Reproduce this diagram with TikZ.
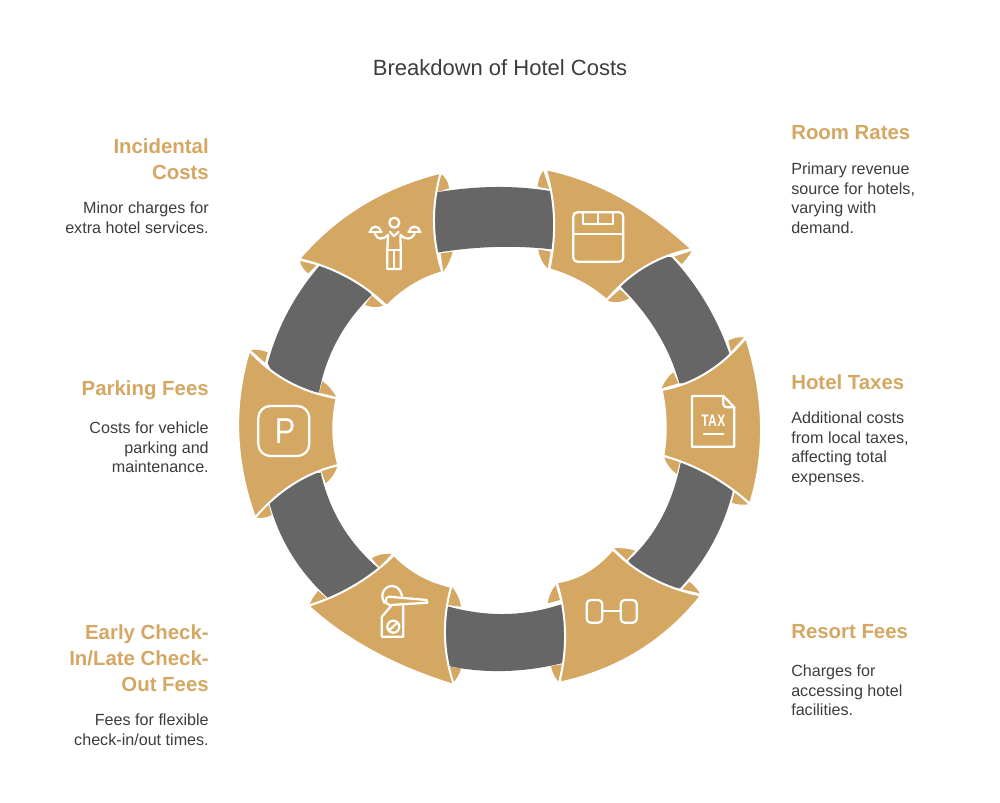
\documentclass[tikz,border=0pt]{standalone}
\usepackage{fontspec}
\setmainfont{Liberation Sans}
\usetikzlibrary{calc}
\definecolor{goldc}{HTML}{D4A762}
\definecolor{darkc}{HTML}{666666}
\definecolor{textc}{HTML}{3D3D3D}
\newcommand\fourside[9]{\path[#1] (#2)
 .. controls ($1.3333*(#3)-0.3333*(#4)$) and ($1.3333*(#3)-0.3333*(#2)$) .. (#4)
 .. controls ($1.3333*(#5)-0.3333*(#6)$) and ($1.3333*(#5)-0.3333*(#4)$) .. (#6)
 .. controls ($1.3333*(#7)-0.3333*(#8)$) and ($1.3333*(#7)-0.3333*(#6)$) .. (#8)
 .. controls ($1.3333*(#9)-0.3333*(#2)$) and ($1.3333*(#9)-0.3333*(#8)$) .. cycle;}
\newcommand\flapshape[4]{\fill[flap] (#1)
 .. controls ($1.3333*(#2)-0.3333*(#3)$) and ($1.3333*(#2)-0.3333*(#1)$) .. (#3) -- (#4) -- cycle;}
\tikzset{
 x=0.75pt,y=-0.75pt,
 ringband/.style={fill=darkc},
 petal/.style={fill=goldc,draw=white,line width=1.5pt,line join=miter},
 flap/.style={fill=goldc},
 icon/.style={draw=white,line width=1.7pt,line join=round,line cap=round},
 titletext/.style={font=\fontsize{16.5}{20}\selectfont,text=textc,inner sep=0pt},
 headR/.style={font=\fontsize{15.3}{19.5}\selectfont\bfseries,text=goldc,inner sep=0pt,anchor=north west,align=left},
 headL/.style={font=\fontsize{15.3}{19.5}\selectfont\bfseries,text=goldc,inner sep=0pt,anchor=north east,align=right},
 bodyR/.style={font=\fontsize{12.1}{14.8}\selectfont,text=textc,inner sep=0pt,anchor=north west,align=left},
 bodyL/.style={font=\fontsize{12.1}{14.8}\selectfont,text=textc,inner sep=0pt,anchor=north east,align=right},
}
\begin{document}
\begin{tikzpicture}
\useasboundingbox (0,0) rectangle (1000,803);
\fill[white] (0,0) rectangle (1000,803);
% bands
\fourside{ringband}{436.7,192.3}{495,187}{550,191}{557,220}{551.7,249.3}{495,247}{436.7,252.7}{431,222}
\fourside{ringband}{671.7,257.3}{705.4,302}{729.3,353.3}{708,376}{679.3,383.3}{657.2,332.4}{620.7,286.7}{644,263}
\fourside{ringband}{732.7,491.7}{712.5,543.4}{680,588.3}{650,582}{628.3,560.7}{661.5,518}{680.7,462.7}{710,471}
\fourside{ringband}{564.3,662.7}{505,671}{448.3,666}{441,636}{446.7,606}{505,614}{562.3,604}{569,632}
\fourside{ringband}{328.3,598.3}{291.7,554.8}{269.3,502.7}{292,481}{320.7,472.7}{341.6,525.3}{378.3,568.3}{356,589}
\fourside{ringband}{267.7,363.3}{287.8,312}{319.3,266}{347,273}{371.7,295}{337.3,340.2}{319,392.7}{287,385}
% flaps
\flapshape{440.7,174}{446.5,180}{449,188.3}{436.7,192.3}
\flapshape{452.7,251.7}{449,262}{443.3,271.7}{440.7,253.3}
\flapshape{300,261}{303,268}{308.3,273.3}{316.7,265}
\flapshape{383.3,305.7}{374,307}{365,305}{371.7,295.7}
\flapshape{543.3,170.7}{539.5,178}{537.7,186.7}{549.3,189}
\flapshape{538.3,249.3}{541.5,260}{547.7,268.3}{550.7,251.7}
\flapshape{691.7,251}{687,258}{681.7,264}{674,256.7}
\flapshape{607.3,300.7}{618,302}{629.3,298.3}{620,289.3}
\flapshape{744,337.3}{736,337.8}{728.3,340.7}{731,351.7}
\flapshape{661.7,388.3}{666.5,379.5}{673.3,372.3}{678.3,383.3}
\flapshape{664.3,457.3}{669,466.5}{676.7,474}{680,461.7}
\flapshape{748.3,504.3}{740,504.5}{731.7,502.7}{735,491.7}
\flapshape{614,548.3}{625,548.5}{635,550.7}{626.7,560}
\flapshape{700,593.3}{695,587}{689.3,581.7}{682.3,589.3}
\flapshape{555.7,585}{550.5,593.5}{547.7,603.3}{560,600}
\flapshape{558.3,681.7}{553.5,674}{551,666}{562.3,664.3}
\flapshape{391.7,554}{381,554.5}{371.7,558.3}{379.3,567.3}
\flapshape{310,604}{313.5,597}{318.3,591}{326.7,598.3}
\flapshape{452.3,587.3}{458,596.5}{461,606.7}{447.3,605}
\flapshape{452.7,683.3}{458,676}{461,668.3}{448.3,666.7}
\flapshape{250.7,350}{259,350}{267.7,352.3}{265,362.7}
\flapshape{336,396.7}{330,388}{322.3,381}{319.3,392.7}
\flapshape{337.3,466.7}{332.5,476}{325.7,483.3}{321,470}
\flapshape{256.7,517.7}{264.5,517.5}{271.7,515}{268.3,503.3}
% petals
\fourside{petal}{440.7,172.7}{362,205}{299,259}{346.7,276.7}{386.7,306}{413,285}{442.3,272.3}{434,223}
\fourside{petal}{545.7,169.3}{620,196.7}{691.7,249}{645,266.7}{606.7,300}{580,281.7}{549.3,269.3}{554,218.3}
\fourside{petal}{746,337.7}{761,423.3}{750,504}{710,475}{663.3,455.7}{665.7,423.3}{661.7,390}{706.7,372.7}
\fourside{petal}{612.7,549.3}{651.7,578.3}{701,595.7}{638.3,651.7}{559.3,682.7}{565,631.7}{556.7,582.3}{586.7,571.7}
\fourside{petal}{394,555}{355,585}{308.3,606}{373.3,651.7}{454,685}{445,636.7}{451,586.7}{420,575}
\fourside{petal}{249.3,350.7}{288.3,381.7}{336.7,398.3}{333.3,431.7}{338.3,465}{293.3,484}{255,517.7}{238.3,433.3}
% icon: incidental
\draw[icon] (394.3,222.7) circle[radius=5];
\draw[icon] (369.3,231.7) -- (381.7,231.7);
\draw[icon] (370.5,231.7) .. controls (370.5,225) and (380.5,225) .. (380.5,231.7);
\draw[icon] (408.3,231.7) -- (420.7,231.7);
\draw[icon] (409.5,231.7) .. controls (409.5,225) and (419.5,225) .. (419.5,231.7);
\draw[icon] (375,234) .. controls (378,240) and (382,240) .. (388,235) -- (387.3,250) -- (387.3,269) -- (400.7,269) -- (400.7,250) -- (400.5,235) .. controls (406,240) and (411,240) .. (414.5,234);
\draw[icon] (387.3,250) -- (400.7,250);
\draw[icon] (394,252) -- (394,269);
\draw[icon] (390,232) -- (394,236) -- (398.5,232);
% icon: room
\draw[icon,rounded corners=3] (573.3,212.3) rectangle (623.3,261.7);
\draw[icon] (573.3,234.3) -- (623.3,234.3);
\draw[icon] (583.3,212.3) -- (583.3,224.3) -- (613.3,224.3) -- (613.3,212.3);
\draw[icon] (598.3,212.3) -- (598.3,224.3);
% icon: tax
\draw[icon] (723.3,396) -- (692,396) -- (692,446.7) -- (734.3,446.7) -- (734.3,407.3) -- cycle;
\draw[icon] (723.3,396) -- (723.3,404) .. controls (723.3,406) and (725,407.3) .. (727,407.3) -- (734.3,407.3);
\node[inner sep=0pt,text=white,font=\fontsize{12.5}{14}\selectfont\bfseries,xscale=.72,transform shape] (taxmark) at (713.3,420.5) {\addfontfeature{LetterSpace=4}TAX};
\draw[icon] (704,434) -- (723.3,434);
% icon: resort
\draw[icon,rounded corners=3] (586.7,600) rectangle (602.3,622.7);
\draw[icon,rounded corners=3] (620.7,600) rectangle (636.7,622.7);
\draw[icon] (602.3,611) -- (620.7,611);
% icon: early
\draw[icon] (389,596.7) -- (426.7,600) -- (427.3,602.7) -- (390,605) .. controls (384.5,605) and (384.5,596.5) .. (389,596.7);
\draw[icon] (384.5,603) .. controls (379,594) and (385,586) .. (392,586) .. controls (397,586) and (401,590) .. (402,596);
\draw[icon] (391,606) -- (381.7,617) -- (381.7,636.7) -- (403.3,636.7) -- (403.3,605);
\draw[icon] (393.3,626.7) circle[radius=6];
\draw[icon] (389.5,630) -- (397,623);
% icon: parking
\draw[icon,rounded corners=9] (258.3,406) rectangle (309.3,456);
\node[inner sep=0pt,text=white,font=\fontsize{27}{30}\selectfont,xscale=.85,transform shape] (pmark) at (285,431.5) {P};
% texts
\node[titletext] (title) at (500,67.6) {Breakdown of Hotel Costs};
\node[headR] (h1) at (791,125) {Room Rates};
\node[bodyR] (b1) at (791,160.3) {\strut Primary revenue\\source for hotels,\\varying with\\demand.};
\node[headR] (h2) at (791,374) {Hotel Taxes};
\node[bodyR] (b2) at (791,409.3) {\strut Additional costs\\from local taxes,\\affecting total\\expenses.};
\node[headR] (h3) at (791,624) {Resort Fees};
\node[bodyR] (b3) at (791,662.3) {\strut Charges for\\accessing hotel\\facilities.};
\node[headL] (h4) at (209,138) {Incidental\\Costs};
\node[bodyL] (b4) at (209,199.3) {\strut Minor charges for\\extra hotel services.};
\node[headL] (h5) at (209,380) {Parking Fees};
\node[bodyL] (b5) at (209,419.3) {\strut Costs for vehicle\\parking and\\maintenance.};
\node[headL] (h6) at (209,624) {Early Check-\\In/Late Check-\\Out Fees};
\node[bodyL] (b6) at (209,711.3) {\strut Fees for flexible\\check-in/out times.};
\end{tikzpicture}
\end{document}
